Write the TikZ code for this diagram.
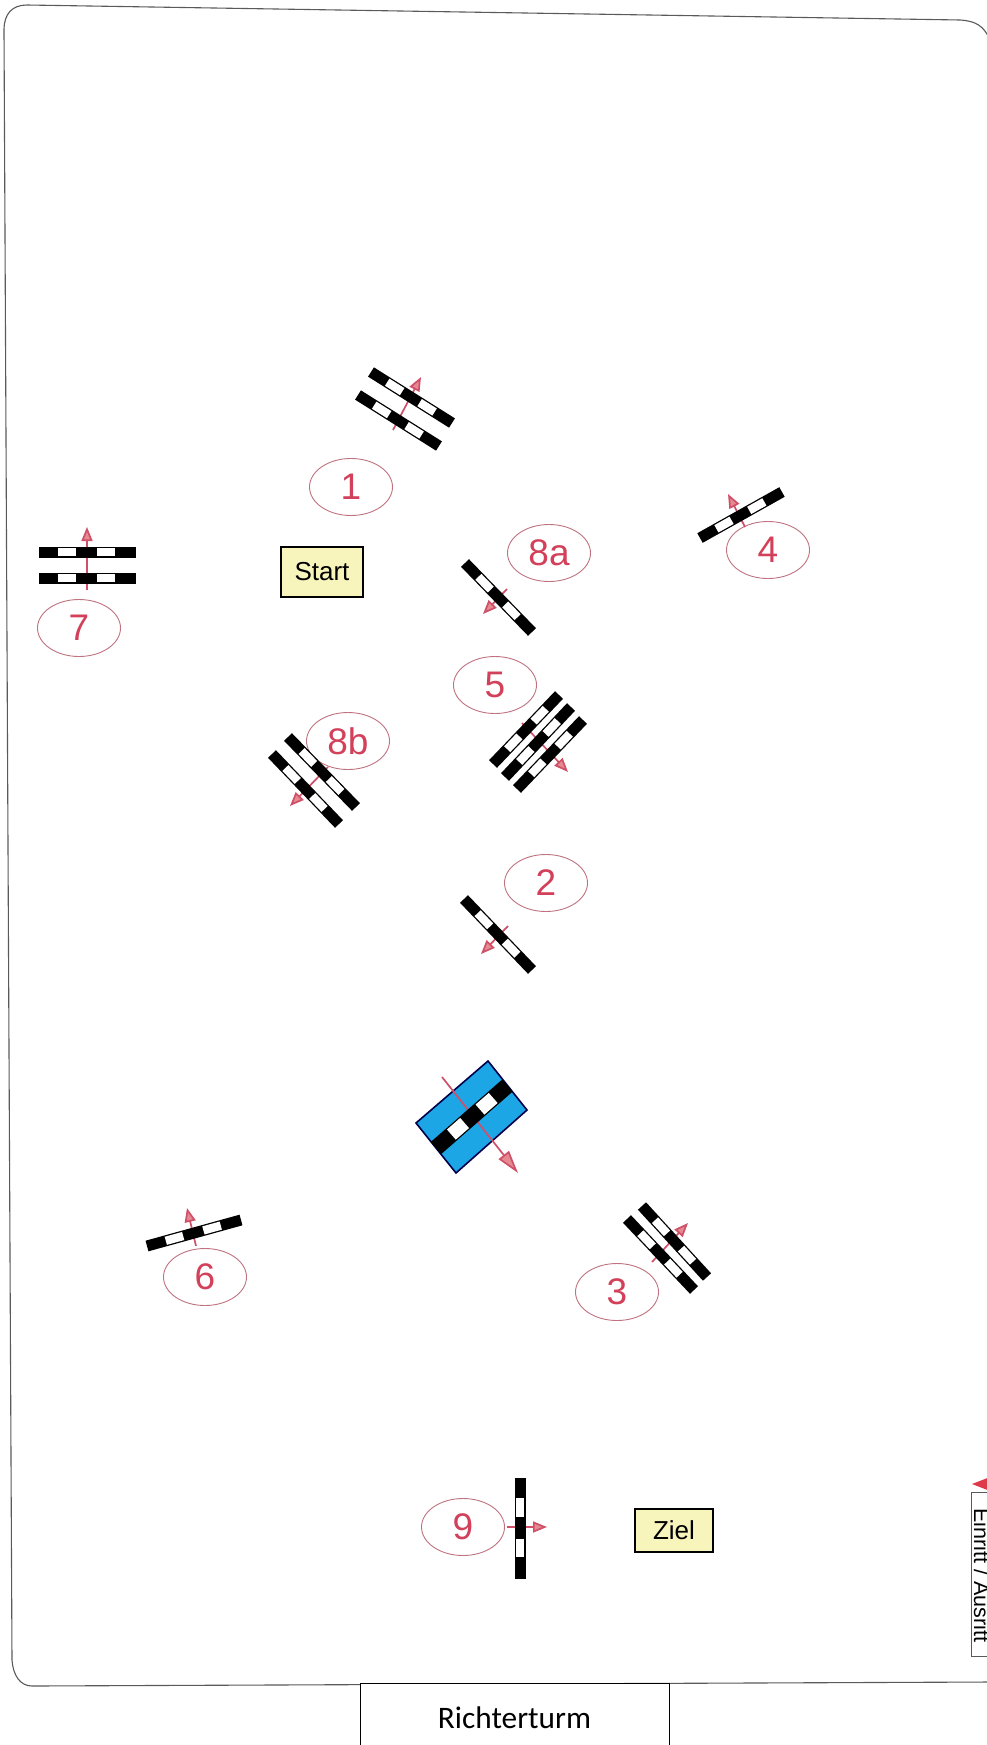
\documentclass[tikz,border=0pt]{standalone}
\usepackage{fontspec}
\setmainfont{Liberation Sans}
\newfontfamily\carlitofont{Carlito}
\usetikzlibrary{calc,arrows.meta,shapes.geometric}
\definecolor{arrowred}{HTML}{CF5068}
\definecolor{arrowfill}{HTML}{E48A90}
\definecolor{digitred}{HTML}{D2405A}
\definecolor{ringred}{HTML}{BF7280}
\definecolor{signyellow}{HTML}{F8F5BC}
\definecolor{waterblue}{HTML}{1CA6E6}
\definecolor{edgegrey}{HTML}{5A5A5A}
\definecolor{entryred}{HTML}{DE3A4A}
\tikzset{
  ring/.style={ellipse,draw=ringred,line width=0.9pt,minimum width=83pt,minimum height=57pt,inner sep=0pt,text=digitred,font=\fontsize{37}{37}\selectfont},
  signbox/.style={rectangle,draw=black,line width=1.6pt,fill=signyellow,inner sep=0pt,font=\fontsize{26}{26}\selectfont},
  flagline/.style={draw=arrowred,line width=1.7pt,-{Triangle[length=14pt,width=11pt,fill=arrowfill]}},
  bigflag/.style={draw=arrowred,line width=1.7pt,-{Triangle[length=23pt,width=13pt,fill=arrowfill]}},
}
% #1 bar width, #2 and #3 the two ends of the bar
\newcommand\hurdle[3][11]{%
  \draw[line width=#1 pt,black] (#2) -- (#3);
  \draw[line width=#1 pt-2.6pt,white] ($(#2)!.2!(#3)$) -- ($(#2)!.385!(#3)$);
  \draw[line width=#1 pt-2.6pt,white] ($(#2)!.6!(#3)$) -- ($(#2)!.785!(#3)$);
}
\newcommand\flagarrow[3]{%
  \coordinate (#1s) at (#2);
  \coordinate (#1e) at (#3);
  \draw[flagline] (#1s) -- (#1e);
}
\begin{document}
\begin{tikzpicture}[x=1pt,y=-1pt]
\useasboundingbox (0,0) rectangle (987,1745);
\fill[white] (0,0) rectangle (987,1745);
\clip (0,0) rectangle (987,1745);

% arena edge
\draw[edgegrey,line width=1.1pt] (990,40) .. controls (984,26) and (976,21) .. (960,20)
  -- (27,5) .. controls (12,5) and (4,14) .. (4,30)
  -- (12,1660) .. controls (13,1675) and (20,1686) .. (32,1686)
  -- (990,1682);

% judges' tower
\node[draw=black,line width=1.2pt,fill=white,minimum width=309pt,minimum height=90pt,inner sep=0pt,anchor=north west] (tower) at (360,1683) {};
\node[font=\carlitofont\fontsize{31.3}{31.3}\selectfont,anchor=base] (towertext) at (514.5,1728) {Richterturm};

% entry sign
\node[draw=edgegrey,line width=0.9pt,minimum width=40pt,minimum height=164pt,inner sep=0pt,anchor=north west] (entry) at (971,1492) {};
\node[rotate=-90,anchor=base west,inner sep=0pt,font=\fontsize{21.5}{21.5}\selectfont] (entrytext) at (974,1508) {Einritt / Ausritt};
\fill[entryred] (972,1484) -- (990,1477) -- (990,1491) -- cycle;

% start and finish
\node[signbox,minimum width=82pt,minimum height=50pt] (start) at (322,572) {Start};
\node[signbox,minimum width=78pt,minimum height=43pt] (ziel) at (674,1530.5) {Ziel};

% number rings
\node[ring] (n1) at (351,487) {1};
\node[ring] (n8a) at (549,553) {8a};
\node[ring] (n4) at (768,550) {4};
\node[ring] (n7) at (79,628) {7};
\node[ring] (n5) at (495,685) {5};
\node[ring] (n8b) at (348,741) {8b};
\node[ring] (n2) at (546,883) {2};
\node[ring] (n6) at (205,1277) {6};
\node[ring] (n3) at (617,1292) {3};
\node[ring] (n9) at (463,1527) {9};

% water jump
\draw[draw=black!70!blue,line width=1.6pt,fill=waterblue] (488,1061) -- (527,1110) -- (456,1173) -- (416,1123) -- cycle;

% direction arrows
\flagarrow{a1}{393,430}{421,377}
\flagarrow{a8a}{507,589}{483,614}
\flagarrow{a4}{745,527}{728,494}
\flagarrow{a7}{87,590}{87,527}
\flagarrow{a5}{522,723}{568,772}
\flagarrow{a8b}{328,767}{290,806}
\flagarrow{a2}{508,926}{481,954}
\flagarrow{a3}{652,1262}{688,1223}
\flagarrow{a6}{196,1246}{187,1208}
\flagarrow{a9}{507,1527}{547,1527}
\coordinate (aws) at (442,1077);
\coordinate (awe) at (518,1173);
\draw[bigflag] (aws) -- (awe);

% obstacles
\hurdle{371,372}{452,423}
\hurdle{358,395}{439,446}
\hurdle{465,563}{532,632}
\hurdle{700,538}{782,492}
\hurdle{39,552}{136,552}
\hurdle{39,578}{136,578}
\hurdle{559,695}{493,764}
\hurdle{571,707}{505,777}
\hurdle{583,720}{517,789}
\hurdle{288,737}{356,807}
\hurdle{272,754}{339,824}
\hurdle{464,899}{532,970}
\hurdle[16]{507.5,1085.5}{436,1148}
\hurdle{642,1206}{707,1277}
\hurdle{627,1219}{694,1290}
\hurdle{147,1246}{241,1220}
\hurdle{520,1478}{520,1579}
\end{tikzpicture}
\end{document}
